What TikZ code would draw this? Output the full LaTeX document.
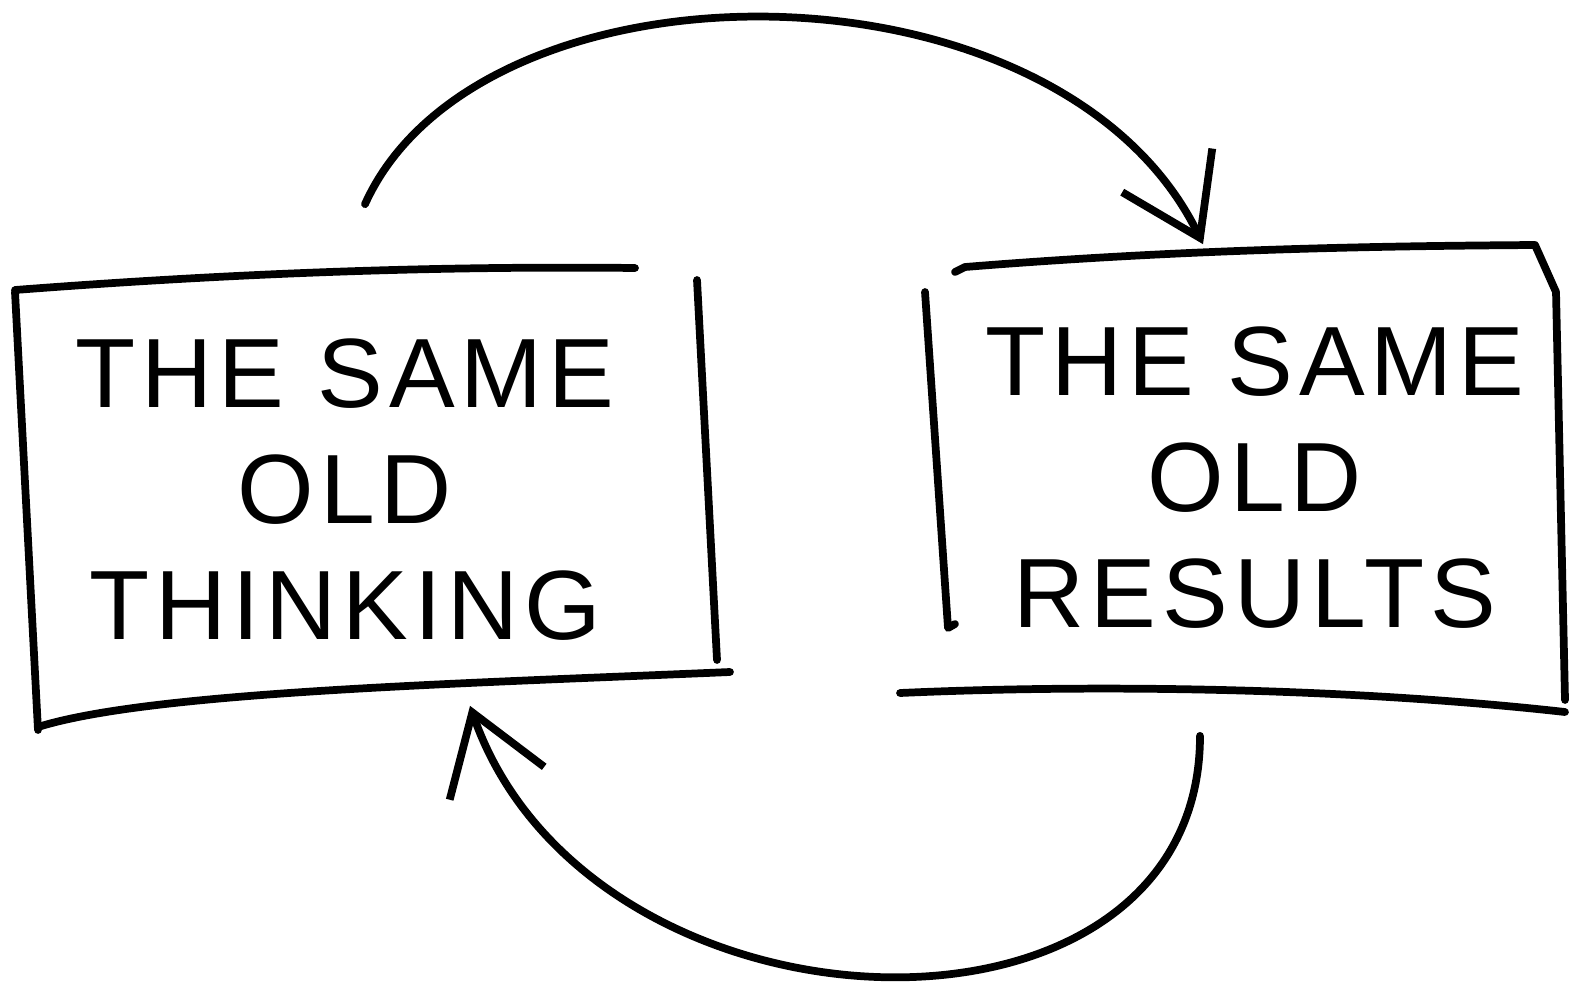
\documentclass[tikz,border=0pt]{standalone}
\usepackage{fontspec}
\newfontfamily\markerfont[LetterSpace=6]{Liberation Sans}
\usetikzlibrary{arrows.meta, calc}

\begin{document}
\begin{tikzpicture}[
  % pixel-like units, y pointing down, so the sketch can be traced directly
  x=0.01cm, y=-0.01cm,
  line cap=round, line join=round,
  pen/.style={line width=2.2pt, draw=black},
  card/.style={
    minimum width=6.2cm, minimum height=4.2cm, align=center,
    inner sep=0pt, font=\markerfont\fontsize{28}{33}\selectfont,
  },
  cycarr/.style={pen, -{Straight Barb[length=7.5mm, width=10mm]}},
]
  \useasboundingbox (0,0) rectangle (1570,988);

  % --- the two cards ---
  \node[card] (think) at (345,490) {THE SAME\\OLD\\THINKING};
  \node[card, minimum height=4.4cm] (res) at (1255,478) {THE SAME\\OLD\\RESULTS};

  % --- hand-drawn edges, left card ---
  \draw[pen] (15,290) .. controls (250,272) and (450,266) .. (635,268);
  \draw[pen] (15,292) -- (38,730);
  \draw[pen] (38,727) .. controls (150,692) and (450,684) .. (730,672);
  \draw[pen] (697,280) -- (717,660);

  % --- hand-drawn edges, right card ---
  \draw[pen] (925,292) -- (948,628) -- (955,624);
  \draw[pen] (955,272) -- (965,267) .. controls (1200,248) and (1400,246) .. (1535,245)
    -- (1556,292) -- (1565,700);
  \draw[pen] (900,693) .. controls (1100,684) and (1350,688) .. (1565,712);

  % --- the cycle ---
  \draw[cycarr] ($(think.north)+(20,-75)$) .. controls +(115,-255) and +(-143,-295)
    .. ($(res.north)+(-52,-13)$);
  \draw[cycarr] ($(res.south)+(-55,37)$) .. controls +(0,335) and +(120,345)
    .. ($(think.south)+(125,5)$);
\end{tikzpicture}
\end{document}
